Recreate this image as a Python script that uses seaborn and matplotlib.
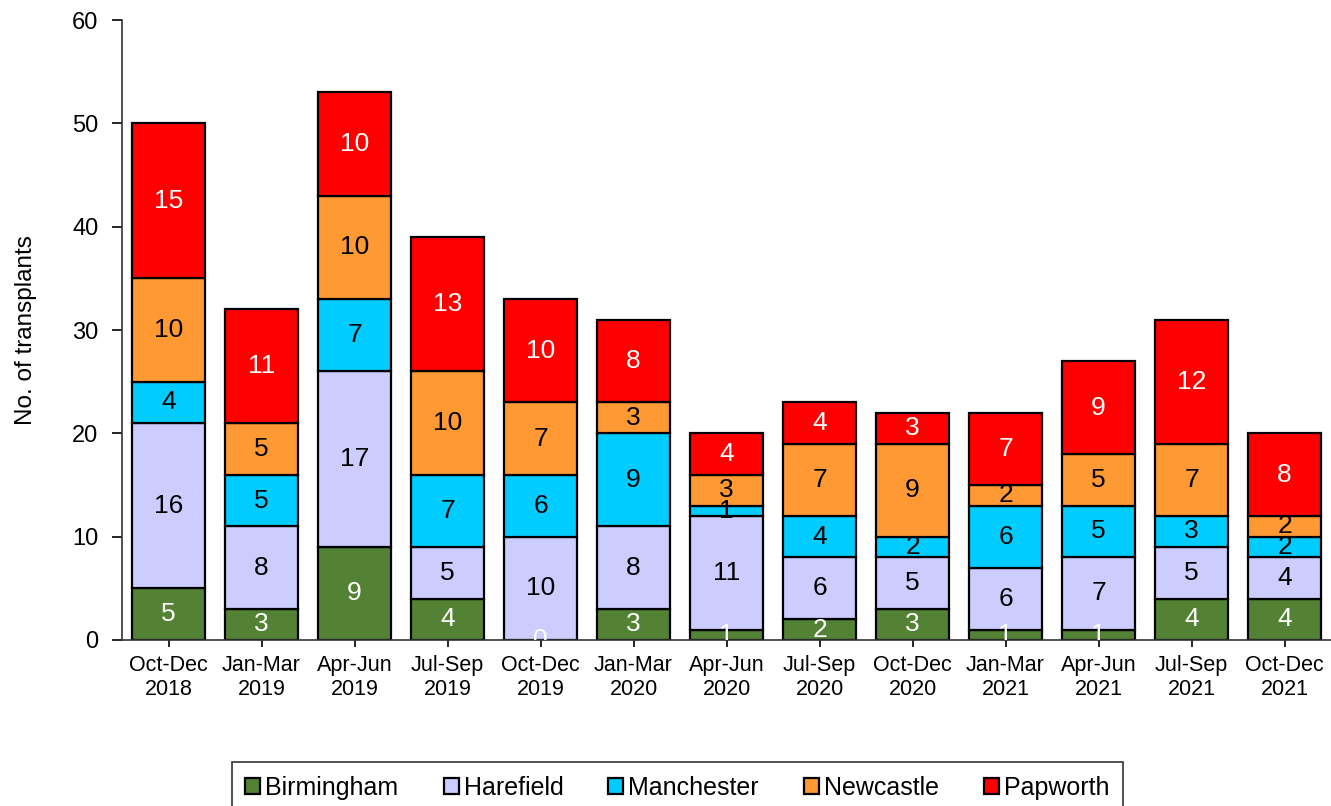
import numpy as np
import pandas as pd
import matplotlib.pyplot as plt
import seaborn as sns

# quarterly transplant counts by centre
periods = ["Oct-Dec\n2018", "Jan-Mar\n2019", "Apr-Jun\n2019", "Jul-Sep\n2019",
           "Oct-Dec\n2019", "Jan-Mar\n2020", "Apr-Jun\n2020", "Jul-Sep\n2020",
           "Oct-Dec\n2020", "Jan-Mar\n2021", "Apr-Jun\n2021", "Jul-Sep\n2021",
           "Oct-Dec\n2021"]
birmingham = [5, 3, 9, 4, 0, 3, 1, 2, 3, 1, 1, 4, 4]
harefield = [16, 8, 17, 5, 10, 8, 11, 6, 5, 6, 7, 5, 4]
manchester = [4, 5, 7, 7, 6, 9, 1, 4, 2, 6, 5, 3, 2]
newcastle = [10, 5, 10, 10, 7, 3, 3, 7, 9, 2, 5, 7, 2]
papworth = [15, 11, 10, 13, 10, 8, 4, 4, 3, 7, 9, 12, 8]

centres = ["Birmingham", "Harefield", "Manchester", "Newcastle", "Papworth"]
colours = ["#548235", "#CCCCFF", "#00CCFF", "#FF9933", "#FF0000"]
text_colours = ["white", "black", "black", "black", "white"]

df = pd.DataFrame({
    "period": periods,
    "Birmingham": birmingham,
    "Harefield": harefield,
    "Manchester": manchester,
    "Newcastle": newcastle,
    "Papworth": papworth,
})

sns.set_style("ticks")
plt.rcParams["font.family"] = ["Liberation Sans", "DejaVu Sans"]
plt.rcParams["text.color"] = "black"
plt.rcParams["axes.labelcolor"] = "black"
plt.rcParams["xtick.color"] = "black"
plt.rcParams["ytick.color"] = "black"

fig = plt.figure(figsize=(13.31, 8.06), dpi=100)
ax = fig.add_axes([0.0917, 0.206, 0.9083, 0.769])

bottom = np.zeros(len(periods))
for centre, colour, tc in zip(centres, colours, text_colours):
    vals = df[centre].to_numpy()
    sns.barplot(data=df, x="period", y=centre, bottom=bottom, color=colour,
                saturation=1, edgecolor="black", linewidth=1.6, width=0.78,
                errorbar=None, label=centre, ax=ax)
    for i, v in enumerate(vals):
        ax.text(i, bottom[i] + v / 2, str(v), ha="center", va="center",
                fontsize=19, color=tc, clip_on=True)
    bottom += vals

if ax.get_legend() is not None:
    ax.get_legend().remove()

ax.set_xlim(-0.5, len(periods) - 0.5)
ax.set_ylim(0, 60)
ax.set_yticks(range(0, 61, 10))
ax.set_xlabel("")
ax.set_ylabel("No. of transplants", fontsize=17.5)
ax.yaxis.set_label_coords(-0.070, 0.5)
ax.tick_params(axis="y", labelsize=17, length=7, width=1.2, pad=10)
ax.tick_params(axis="x", labelsize=15.5, length=5, width=1.2, pad=6)
for lbl in ax.get_xticklabels():
    lbl.set_linespacing(1.15)
sns.despine(ax=ax)
for side in ["left", "bottom"]:
    ax.spines[side].set_color("#333333")
    ax.spines[side].set_linewidth(1.2)

handles, labels = ax.get_legend_handles_labels()
leg = fig.legend(handles, labels, loc="upper center", bbox_to_anchor=(0.509, 1 - 762 / 806),
                 ncol=5, frameon=True, fancybox=False, edgecolor="black", fontsize=18,
                 handlelength=0.6, handleheight=0.6, handletextpad=0.2,
                 columnspacing=1.8, borderpad=0.55, borderaxespad=0)
leg.get_frame().set_linewidth(1.2)

plt.savefig("out.png", dpi=100)
